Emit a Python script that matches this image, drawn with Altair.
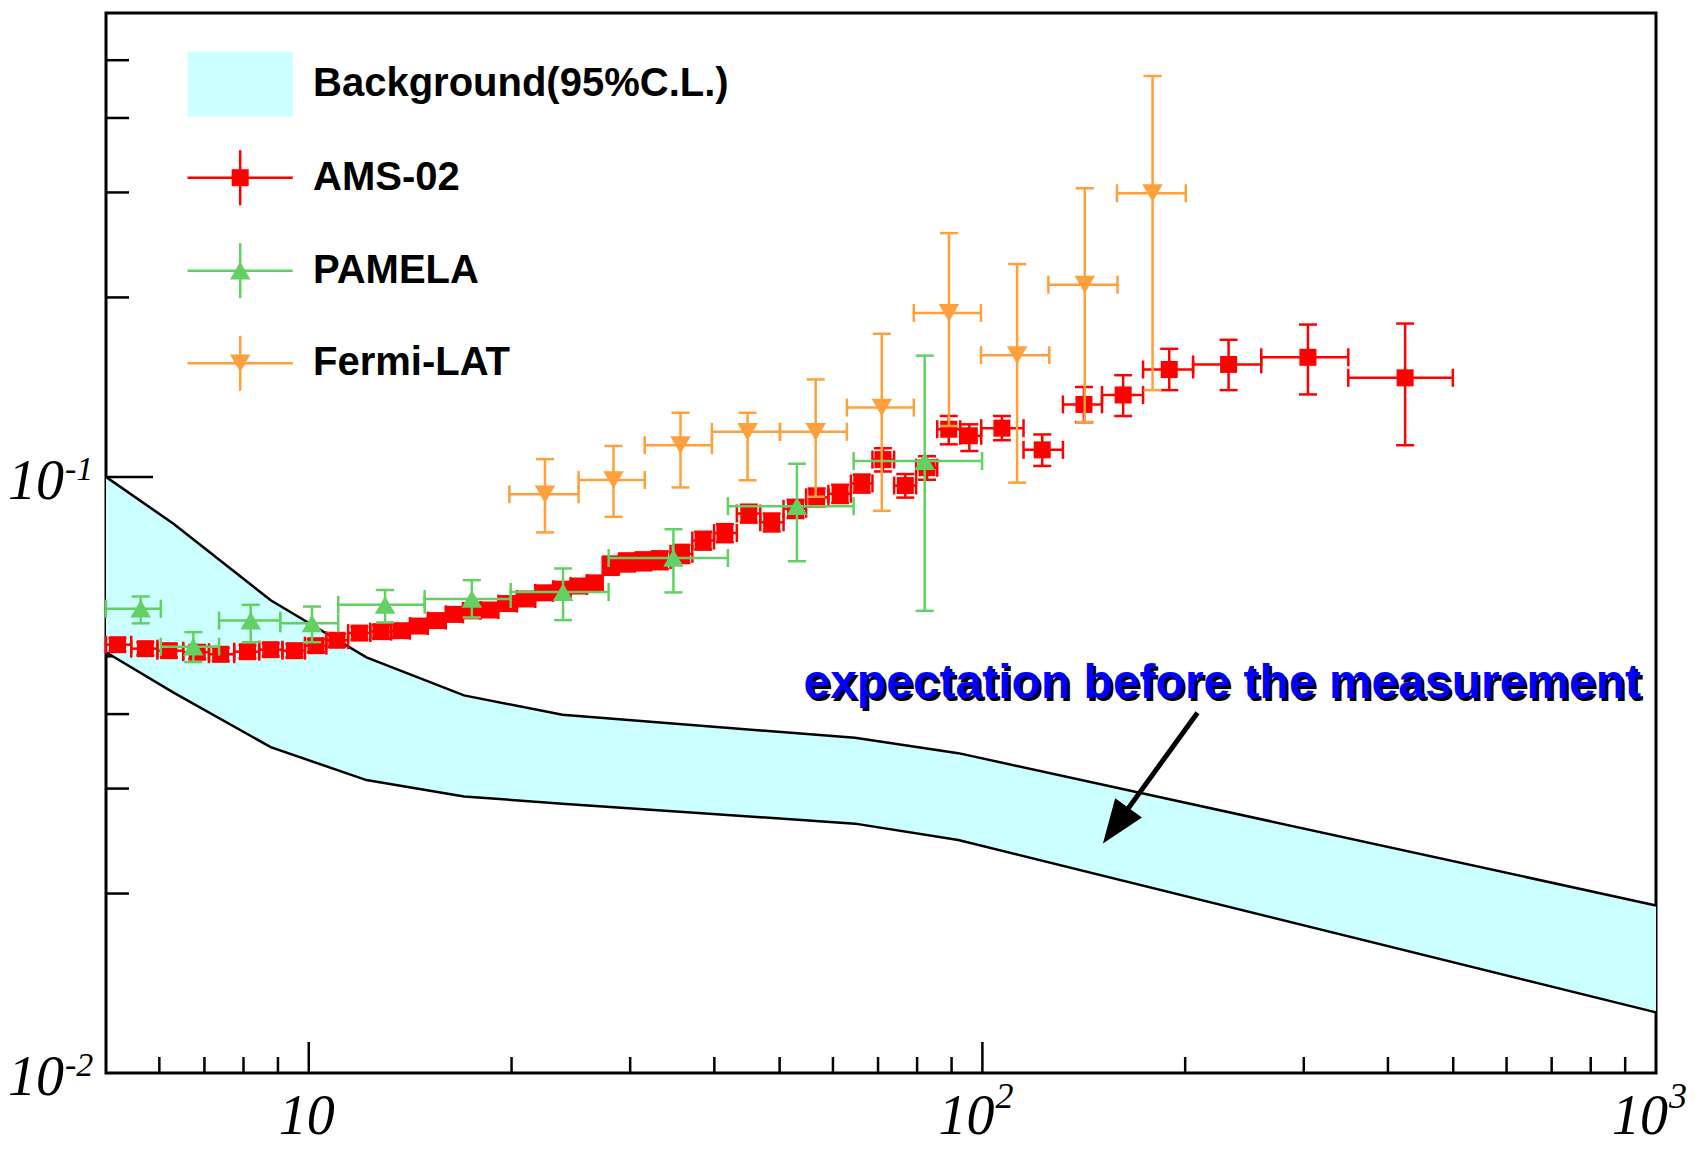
import altair as alt
import pandas as pd

# ---------------- data ----------------
band_x = [5.0, 6.29, 8.78, 12.18, 17.0, 23.8, 64.7, 92.1, 1000.0]
band_hi = [0.1000, 0.0835, 0.0621, 0.0498, 0.0430, 0.0399, 0.0365, 0.0344, 0.0191]
band_lo = [0.0508, 0.0435, 0.0352, 0.0310, 0.0291, 0.0283, 0.0262, 0.0246, 0.01264]

ams_x = [5.20, 5.72, 6.20, 6.83, 7.40, 8.11, 8.78, 9.52, 10.25, 11.01,
         11.89, 12.80, 13.71, 14.55, 15.50, 16.45, 17.46, 18.52, 19.73, 21.02,
         22.39, 23.76, 25.21, 26.56, 28.08, 29.69, 31.39, 33.19, 35.75, 38.50,
         41.47, 45.00, 48.66, 52.79, 56.76, 61.48, 66.22, 71.18, 76.83, 82.76,
         89.13, 95.63, 106.9, 122.7, 141.5, 161.8, 189.4, 232.0, 304.3, 424.2]
ams_edges = [5.0, 5.45, 5.96, 6.51, 7.11, 7.75, 8.44, 9.14, 9.87, 10.62,
             11.44, 12.34, 13.25, 14.13, 15.02, 15.97, 16.94, 17.98, 19.12, 20.37,
             21.69, 23.06, 24.47, 25.88, 27.31, 28.87, 30.52, 32.28, 34.44, 37.10,
             39.96, 43.20, 46.80, 50.68, 54.74, 59.07, 63.80, 68.67, 73.96, 79.73,
             85.7, 92.7, 99.6, 115.1, 131.7, 150.5, 173.2, 205.5, 259.4, 349.3, 499.3]
ams_y = [0.0523, 0.0515, 0.0511, 0.0508, 0.0504, 0.0509, 0.0513, 0.0511, 0.0521, 0.0532,
         0.0547, 0.0550, 0.0552, 0.0562, 0.0574, 0.0588, 0.0596, 0.0598, 0.0613, 0.0624,
         0.0639, 0.0648, 0.0656, 0.0664, 0.0710, 0.0719, 0.0722, 0.0725, 0.0743, 0.0782,
         0.0805, 0.0868, 0.0839, 0.0884, 0.0924, 0.0937, 0.0975, 0.1069, 0.0967, 0.1036,
         0.1202, 0.1172, 0.1207, 0.1110, 0.1323, 0.1372, 0.1514, 0.1544, 0.1587, 0.1466]
ams_ylo = [0.0510, 0.0502, 0.0498, 0.0495, 0.0491, 0.0496, 0.0500, 0.0498, 0.0508, 0.0519,
           0.0533, 0.0536, 0.0538, 0.0548, 0.0560, 0.0573, 0.0581, 0.0583, 0.0598, 0.0608,
           0.0623, 0.0632, 0.0640, 0.0647, 0.0685, 0.0694, 0.0697, 0.0700, 0.0717, 0.0755,
           0.0777, 0.0838, 0.0810, 0.0853, 0.0892, 0.0904, 0.0941, 0.1021, 0.0923, 0.0989,
           0.1134, 0.1105, 0.1152, 0.1043, 0.1235, 0.1265, 0.1398, 0.1398, 0.1375, 0.1130]
ams_yhi = [0.0536, 0.0528, 0.0524, 0.0521, 0.0517, 0.0522, 0.0526, 0.0524, 0.0534, 0.0545,
           0.0561, 0.0564, 0.0566, 0.0576, 0.0588, 0.0603, 0.0611, 0.0613, 0.0628, 0.0640,
           0.0655, 0.0664, 0.0672, 0.0681, 0.0735, 0.0744, 0.0747, 0.0750, 0.0769, 0.0809,
           0.0833, 0.0898, 0.0868, 0.0915, 0.0956, 0.0970, 0.1009, 0.1117, 0.1011, 0.1083,
           0.1265, 0.1225, 0.1265, 0.1178, 0.1415, 0.1481, 0.1640, 0.1698, 0.1801, 0.1808]

pam_x = [5.63, 6.74, 8.20, 10.11, 12.98, 17.46, 23.85, 34.78, 53.05, 82.1]
pam_xlo = [5.0, 6.03, 7.36, 9.07, 11.06, 14.86, 19.94, 27.87, 41.9, 64.4]
pam_xhi = [6.03, 7.36, 9.07, 11.06, 14.86, 19.94, 27.87, 41.9, 64.4, 99.9]
pam_y = [0.0601, 0.0519, 0.0574, 0.0568, 0.0610, 0.0624, 0.0641, 0.0731, 0.0893, 0.1063]
pam_ylo = [0.0568, 0.0489, 0.0528, 0.0528, 0.0570, 0.0581, 0.0575, 0.0640, 0.0722, 0.0596]
pam_yhi = [0.0630, 0.0549, 0.0610, 0.0606, 0.0646, 0.0671, 0.0702, 0.0817, 0.1052, 0.1597]

fer_x = [22.42, 28.34, 35.63, 44.82, 56.56, 70.9, 89.2, 112.6, 141.9, 178.9]
fer_xlo = [19.85, 25.15, 31.53, 39.67, 50.06, 62.93, 79.1, 99.5, 125.3, 158.4]
fer_xhi = [25.15, 31.53, 39.67, 50.06, 62.93, 79.1, 99.5, 125.7, 158.7, 200.4]
fer_y = [0.0935, 0.0988, 0.1130, 0.1190, 0.1190, 0.1307, 0.1884, 0.1600, 0.2101, 0.2991]
fer_ylo = [0.0807, 0.0857, 0.0960, 0.0987, 0.0926, 0.0877, 0.1217, 0.0978, 0.1236, 0.1398]
fer_yhi = [0.1071, 0.1127, 0.1281, 0.1281, 0.1457, 0.1738, 0.2564, 0.2275, 0.3049, 0.4704]

x_major_ticks = [10, 100]
x_minor_ticks = [6, 7, 8, 9, 20, 30, 40, 50, 60, 70, 80, 90,
                 200, 300, 400, 500, 600, 700, 800, 900]
y_major_ticks = [0.1]
y_minor_ticks = [0.02, 0.03, 0.04, 0.05, 0.06, 0.07, 0.08, 0.09, 0.2, 0.3, 0.4, 0.5]

x_label_vals = [10, 100, 1000]
x_label_sup = ["", "2", "3"]
y_label_vals = [0.1, 0.01]
y_label_sup = ["-1", "-2"]

legend_labels = ["Background(95%C.L.)", "AMS-02", "PAMELA", "Fermi-LAT"]
note_text = "expectation before the measurement"
note_pos = (54.25, 0.04251)
arrow_from = (208.6, 0.04022)
arrow_to = (151.0, 0.02426)

# ---------------- styling ----------------
W, H = 1550, 1060
RED, GREEN, ORANGE = "#FF0000", "#62D062", "#FFA03C"
BAND = "#CCFFFF"
LW, CAP = 2.5, 18

xs = alt.Scale(type="log", domain=[5, 1000], nice=False)
ys = alt.Scale(type="log", domain=[0.01, 0.6], nice=False)


def X(f):
    return alt.X(f, type="quantitative", scale=xs, axis=None)


def Y(f):
    return alt.Y(f, type="quantitative", scale=ys, axis=None)


layers = []

# axis ticks (inside), drawn under the band
xt_min = pd.DataFrame({"x": x_minor_ticks, "y": [0.01] * len(x_minor_ticks)})
xt_maj = pd.DataFrame({"x": x_major_ticks, "y": [0.01] * len(x_major_ticks)})
yt_min = pd.DataFrame({"y": y_minor_ticks, "x": [5] * len(y_minor_ticks)})
yt_maj = pd.DataFrame({"y": y_major_ticks, "x": [5] * len(y_major_ticks)})
layers.append(alt.Chart(xt_min).mark_rule(color="black", strokeWidth=2.5, y2Offset=-16)
              .encode(x=X("x"), y=Y("y"), y2=alt.Y2("y")))
layers.append(alt.Chart(xt_maj).mark_rule(color="black", strokeWidth=2.5, y2Offset=-31)
              .encode(x=X("x"), y=Y("y"), y2=alt.Y2("y")))
layers.append(alt.Chart(yt_min).mark_rule(color="black", strokeWidth=2.5, x2Offset=23)
              .encode(x=X("x"), x2=alt.X2("x"), y=Y("y")))
layers.append(alt.Chart(yt_maj).mark_rule(color="black", strokeWidth=2.5, x2Offset=47)
              .encode(x=X("x"), x2=alt.X2("x"), y=Y("y")))

# background band
band_df = pd.DataFrame({"x": band_x, "hi": band_hi, "lo": band_lo})
layers.append(alt.Chart(band_df).mark_area(color=BAND, opacity=1)
              .encode(x=X("x"), y=Y("lo"), y2=alt.Y2("hi")))
layers.append(alt.Chart(band_df).mark_line(color="black", strokeWidth=2.5)
              .encode(x=X("x"), y=Y("hi")))
layers.append(alt.Chart(band_df).mark_line(color="black", strokeWidth=2.5)
              .encode(x=X("x"), y=Y("lo")))


def series(df, color, shape, size):
    b = alt.Chart(df)
    out = [
        b.mark_rule(color=color, strokeWidth=LW).encode(x=X("xlo"), x2=alt.X2("xhi"), y=Y("y")),
        b.mark_rule(color=color, strokeWidth=LW).encode(x=X("x"), y=Y("ylo"), y2=alt.Y2("yhi")),
        b.mark_tick(color=color, orient="horizontal", size=CAP, thickness=LW, opacity=1)
         .encode(x=X("x"), y=Y("ylo")),
        b.mark_tick(color=color, orient="horizontal", size=CAP, thickness=LW, opacity=1)
         .encode(x=X("x"), y=Y("yhi")),
        b.mark_tick(color=color, orient="vertical", size=CAP, thickness=LW, opacity=1)
         .encode(x=X("xlo"), y=Y("y")),
        b.mark_tick(color=color, orient="vertical", size=CAP, thickness=LW, opacity=1)
         .encode(x=X("xhi"), y=Y("y")),
        b.mark_point(shape=shape, filled=True, size=size, color=color, opacity=1)
         .encode(x=X("x"), y=Y("y")),
    ]
    return out


ams_df = pd.DataFrame({"x": ams_x, "xlo": ams_edges[:-1], "xhi": ams_edges[1:],
                       "y": ams_y, "ylo": ams_ylo, "yhi": ams_yhi})
pam_df = pd.DataFrame({"x": pam_x, "xlo": pam_xlo, "xhi": pam_xhi,
                       "y": pam_y, "ylo": pam_ylo, "yhi": pam_yhi})
fer_df = pd.DataFrame({"x": fer_x, "xlo": fer_xlo, "xhi": fer_xhi,
                       "y": fer_y, "ylo": fer_ylo, "yhi": fer_yhi})
layers += series(ams_df, RED, "square", 289)
layers += series(pam_df, GREEN, "triangle-up", 420)
layers += series(fer_df, ORANGE, "triangle-down", 420)

# legend (pixel layout inside the plot)
one = alt.Chart(pd.DataFrame({"k": [0]}))
LX0, LX1, LXC, TX = 81.5, 186.8, 134.2, 207
layers.append(one.mark_rect(color=BAND).encode(
    x=alt.value(LX0), x2=alt.value(LX1), y=alt.value(38.7), y2=alt.value(103.7)))
rows = [(RED, "square", 289, 164.7), (GREEN, "triangle-up", 420, 257.7),
        (ORANGE, "triangle-down", 420, 350.3)]
for col, shp, sz, yy in rows:
    layers.append(one.mark_rule(color=col, strokeWidth=LW).encode(
        x=alt.value(LX0), x2=alt.value(LX1), y=alt.value(yy)))
    layers.append(one.mark_rule(color=col, strokeWidth=LW).encode(
        x=alt.value(LXC), y=alt.value(yy - 27.5), y2=alt.value(yy + 27.5)))
    layers.append(one.mark_point(shape=shp, filled=True, size=sz, color=col, opacity=1).encode(
        x=alt.value(LXC), y=alt.value(yy)))
for lab, yy in zip(legend_labels, [71.2, 164.7, 257.7, 350.3]):
    layers.append(one.mark_text(font="Liberation Sans", fontWeight="bold", fontSize=40,
                                align="left", baseline="middle", color="black").encode(
        x=alt.value(TX), y=alt.value(yy), text=alt.value(lab)))

# annotation with shadow and arrow
note_df = pd.DataFrame({"x": [note_pos[0]], "y": [note_pos[1]], "t": [note_text]})
for col, d in [("#000000", 2.5), ("#0000FF", 0)]:
    layers.append(alt.Chart(note_df).mark_text(
        font="Liberation Sans", fontWeight="bold", fontSize=48, align="left",
        baseline="alphabetic", color=col, dx=d, dy=d).encode(
        x=X("x"), y=Y("y"), text="t:N"))
arr_df = pd.DataFrame({"x": [arrow_from[0]], "y": [arrow_from[1]],
                       "x2": [arrow_to[0]], "y2": [arrow_to[1]]})
layers.append(alt.Chart(arr_df).mark_rule(color="black", strokeWidth=5,
                                          x2Offset=12.8, y2Offset=-17.9).encode(
    x=X("x"), y=Y("y"), x2=alt.X2("x2"), y2=alt.Y2("y2")))
layers.append(alt.Chart(arr_df).mark_point(
    shape="M0,-1L0.75,1L-0.75,1Z", filled=True, size=1936, color="black", opacity=1,
    angle=215.7, xOffset=12.8, yOffset=-17.9).encode(x=X("x2"), y=Y("y2")))

# axis labels (italic serif with superscripts)
SERIF = "Liberation Serif"
xl = pd.DataFrame({"x": x_label_vals, "y": [0.01] * 3, "sup": x_label_sup})
xl_plain = xl[xl["sup"] == ""]
xl_pow = xl[xl["sup"] != ""]
layers.append(alt.Chart(xl_plain).mark_text(font=SERIF, fontStyle="italic", fontSize=56,
                                            align="center", baseline="alphabetic",
                                            dx=-2, dy=61, color="black").encode(
    x=X("x"), y=Y("y"), text=alt.value("10")))
layers.append(alt.Chart(xl_pow).mark_text(font=SERIF, fontStyle="italic", fontSize=56,
                                          align="right", baseline="alphabetic",
                                          dx=12, dy=61, color="black").encode(
    x=X("x"), y=Y("y"), text=alt.value("10")))
layers.append(alt.Chart(xl_pow).mark_text(font=SERIF, fontStyle="italic", fontSize=36,
                                          align="left", baseline="alphabetic",
                                          dx=13, dy=35, color="black").encode(
    x=X("x"), y=Y("y"), text="sup:N"))
yl = pd.DataFrame({"y": y_label_vals, "x": [5] * 2, "sup": y_label_sup})
layers.append(alt.Chart(yl).mark_text(font=SERIF, fontStyle="italic", fontSize=56,
                                      align="right", baseline="alphabetic",
                                      dx=-42, dy=22, color="black").encode(
    x=X("x"), y=Y("y"), text=alt.value("10")))
layers.append(alt.Chart(yl).mark_text(font=SERIF, fontStyle="italic", fontSize=34,
                                      align="left", baseline="alphabetic",
                                      dx=-41, dy=3, color="black").encode(
    x=X("x"), y=Y("y"), text="sup:N"))

chart = alt.layer(*layers).properties(
    width=W, height=H,
    padding={"left": 98, "top": 5, "right": 30, "bottom": 73},
    autosize=alt.AutoSizeParams(type="none"),
    background="white",
).configure_view(stroke="black", strokeWidth=3)

chart.save("out.html", embed_options={"renderer": "svg", "actions": False})
